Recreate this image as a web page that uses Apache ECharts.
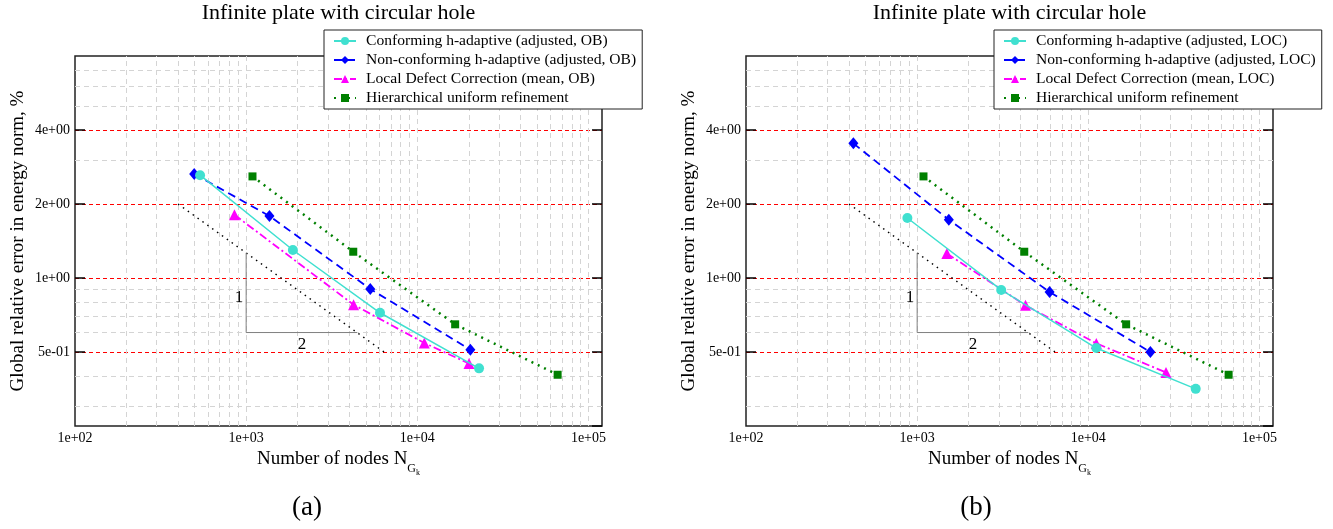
<!DOCTYPE html>
<html><head><meta charset="utf-8">
<script src="https://cdn.jsdelivr.net/npm/echarts@6/dist/echarts.min.js"></script>
<style>html,body{margin:0;padding:0;background:#fff}#c{width:1333px;height:529px}</style>
</head><body><div id="c"></div>
<script>
// ---------- data ----------
const nodesConfOB    = [538, 1875, 6054, 22950];
const errConfOB      = [2.62, 1.30, 0.722, 0.429];
const nodesNonConfOB = [497, 1368, 5310, 20420];
const errNonConfOB   = [2.65, 1.787, 0.902, 0.511];
const nodesLdcOB     = [854, 4242, 10990, 20050];
const errLdcOB       = [1.808, 0.779, 0.544, 0.449];

const nodesConfLOC    = [877, 3097, 11140, 42420];
const errConfLOC      = [1.754, 0.894, 0.519, 0.354];
const nodesNonConfLOC = [424, 1531, 5940, 23050];
const errNonConfLOC   = [3.53, 1.726, 0.877, 0.50];
const nodesLdcLOC     = [1492, 4297, 11140, 28440];
const errLdcLOC       = [1.258, 0.774, 0.542, 0.413];

const nodesUniform = [1089, 4225, 16641, 66049];
const errUniform   = [2.59, 1.279, 0.648, 0.404];

// slope-1/2 reference line and triangle
const refNodes = [400, 6400];
const refErr   = [2, 0.5];
const triNodes = [1000, 1000, 4444];
const triErr   = [1.265, 0.6, 0.6];
const slopeLabels = [{text: '1', at: [1000, 0.834], pos: 'left'}, {text: '2', at: [2120, 0.6], pos: 'bottom'}];

// axes
const xMin = 100, xMax = 120000;
const yMin = 0.25, yMax = 8;
const xMinorGrid = [200,300,400,500,600,700,800,900,2000,3000,4000,5000,6000,7000,8000,9000,20000,30000,40000,50000,60000,70000,80000,90000];
const yMinorGrid = [0.3,0.4,0.6,0.7,0.8,0.9,3,5,6,7];

const titleText = 'Infinite plate with circular hole';
const captions = ['(a)', '(b)'];
const namesOB  = ['Conforming h-adaptive (adjusted, OB)', 'Non-conforming h-adaptive (adjusted, OB)', 'Local Defect Correction (mean, OB)', 'Hierarchical uniform refinement'];
const namesLOC = ['Conforming h-adaptive (adjusted, LOC)', 'Non-conforming h-adaptive (adjusted, LOC)', 'Local Defect Correction (mean, LOC)', 'Hierarchical uniform refinement'];

// ---------- chart ----------
const FONT = '"Liberation Serif","Times New Roman",serif';
function expFmt(v) {
  const e = Math.floor(Math.log10(v) + 1e-6);
  const m = Math.round(v / Math.pow(10, e));
  return m + 'e' + (e < 0 ? '-' : '+') + String(Math.abs(e)).padStart(2, '0');
}
function pairs(xs, ys) { return xs.map((x, i) => [x, ys[i]]); }

const panels = [
  {left: 75,  names: namesOB,  conf: [nodesConfOB, errConfOB],  non: [nodesNonConfOB, errNonConfOB],  ldc: [nodesLdcOB, errLdcOB],  legendLeft: 324, captionX: 307},
  {left: 746, names: namesLOC, conf: [nodesConfLOC, errConfLOC], non: [nodesNonConfLOC, errNonConfLOC], ldc: [nodesLdcLOC, errLdcLOC], legendLeft: 994, captionX: 976}
];
const GRID_TOP = 56, GRID_H = 370, GRID_W = 527;

const grids = [], xAxes = [], yAxes = [], series = [], titles = [], legends = [];
panels.forEach((p, g) => {
  grids.push({left: p.left, top: GRID_TOP, width: GRID_W, height: GRID_H, show: true, borderColor: '#222', borderWidth: 1.5, backgroundColor: 'transparent'});
  xAxes.push({
    gridIndex: g, type: 'log', logBase: 10, min: xMin, max: xMax,
    axisLine: {show: false}, axisTick: {show: false},
    axisLabel: {formatter: expFmt, showMaxLabel: false, margin: 5, fontFamily: FONT, fontSize: 14, color: '#000'},
    splitLine: {show: true, showMinLine: false, showMaxLine: false, lineStyle: {color: '#d4d4d4', type: [5, 4], width: 1}},
    name: '{m|Number of nodes N}{s|G}{k|k}', nameLocation: 'middle', nameGap: 16,
    nameTextStyle: {fontFamily: FONT, color: '#000', rich: {
      m: {fontFamily: FONT, fontSize: 19, color: '#000', verticalAlign: 'bottom', padding: [0, 0, 8, 0]},
      s: {fontFamily: FONT, fontSize: 12, color: '#000', verticalAlign: 'bottom', padding: [0, 0, 2, 0]},
      k: {fontFamily: FONT, fontSize: 8, color: '#000', verticalAlign: 'bottom'}
    }}
  });
  yAxes.push({
    gridIndex: g, type: 'log', logBase: 2, min: yMin, max: yMax,
    axisLine: {show: false},
    axisTick: {show: true, inside: true, length: 10, lineStyle: {color: '#000', width: 1.5}},
    axisLabel: {formatter: expFmt, showMinLabel: false, showMaxLabel: false, margin: 5, fontFamily: FONT, fontSize: 14, color: '#000'},
    splitLine: {show: true, showMinLine: false, showMaxLine: false, lineStyle: {color: '#ff0000', type: [4, 3], width: 1}},
    name: 'Global relative error in energy norm, %', nameLocation: 'middle', nameGap: 47,
    nameTextStyle: {fontFamily: FONT, fontSize: 19, color: '#000'}
  });
  titles.push({text: titleText, left: p.left + GRID_W / 2, textAlign: 'center', top: 2, padding: 0,
    textStyle: {fontFamily: FONT, fontSize: 22, fontWeight: 'normal', color: '#000'}});
  titles.push({text: captions[g], left: p.captionX, textAlign: 'center', top: 494, padding: 0,
    textStyle: {fontFamily: FONT, fontSize: 27, fontWeight: 'normal', color: '#000'}});
  legends.push({
    left: p.legendLeft, top: 30, orient: 'vertical', data: p.names, selectedMode: false, z: 20,
    backgroundColor: '#fff', borderColor: '#222', borderWidth: 1, padding: [3, 6, 3, 9],
    itemGap: 3, itemWidth: 22, itemHeight: 10,
    textStyle: {fontFamily: FONT, fontSize: 15.6, color: '#000', lineHeight: 16, padding: [0, 0, 0, 5]}
  });
});
// right-side tick axes
panels.forEach((p, g) => {
  yAxes.push({gridIndex: g, type: 'log', logBase: 2, min: yMin, max: yMax, position: 'right',
    axisLine: {show: false}, axisLabel: {show: false}, splitLine: {show: false},
    axisTick: {show: true, inside: true, length: 10, lineStyle: {color: '#000', width: 1.5}}});
});

panels.forEach((p, g) => {
  // minor grid
  series.push({type: 'line', xAxisIndex: g, yAxisIndex: g, data: [], z: 1, silent: true,
    markLine: {silent: true, z: 1, symbol: ['none', 'none'], label: {show: false}, animation: false,
      lineStyle: {color: '#d4d4d4', type: [5, 4], width: 1},
      data: xMinorGrid.map(v => ({xAxis: v})).concat(yMinorGrid.map(v => ({yAxis: v})))}});
  // slope reference
  series.push({type: 'line', xAxisIndex: g, yAxisIndex: g, data: pairs(refNodes, refErr), symbol: 'none', z: 2, silent: true,
    lineStyle: {color: '#000', width: 1.5, type: [1.5, 4.5]}});
  series.push({type: 'line', xAxisIndex: g, yAxisIndex: g, data: pairs(triNodes, triErr), symbol: 'none', z: 2, silent: true,
    lineStyle: {color: '#808080', width: 1},
    markPoint: {silent: true, z: 2, symbol: 'circle', symbolSize: 0, animation: false,
      data: slopeLabels.map(l => ({coord: l.at, label: {show: true, formatter: l.text, position: l.pos, distance: 3,
        fontFamily: FONT, fontSize: 17, color: '#000'}}))}});
  // data
  series.push({name: p.names[3], type: 'line', xAxisIndex: g, yAxisIndex: g, data: pairs(nodesUniform, errUniform), z: 4,
    symbol: 'rect', symbolSize: 8, itemStyle: {color: '#008000'}, lineStyle: {color: '#008000', width: 2.5, type: [2, 5]}});
  series.push({name: p.names[2], type: 'line', xAxisIndex: g, yAxisIndex: g, data: pairs(p.ldc[0], p.ldc[1]), z: 5,
    symbol: 'triangle', symbolSize: 11, itemStyle: {color: '#ff00ff'}, lineStyle: {color: '#ff00ff', width: 1.8, type: [8, 3, 2, 3]}});
  series.push({name: p.names[1], type: 'line', xAxisIndex: g, yAxisIndex: g, data: pairs(p.non[0], p.non[1]), z: 6,
    symbol: 'diamond', symbolSize: [10, 12], itemStyle: {color: '#0000ff'}, lineStyle: {color: '#0000ff', width: 1.8, type: [8, 5]}});
  series.push({name: p.names[0], type: 'line', xAxisIndex: g, yAxisIndex: g, data: pairs(p.conf[0], p.conf[1]), z: 7,
    symbol: 'circle', symbolSize: 10, itemStyle: {color: '#40e0d0'}, lineStyle: {color: '#40e0d0', width: 1.5}});
});

const chart = echarts.init(document.getElementById('c'), null, {renderer: 'canvas'});
chart.setOption({
  animation: false,
  backgroundColor: '#fff',
  title: titles, legend: legends, grid: grids, xAxis: xAxes, yAxis: yAxes, series: series
});
</script></body></html>
